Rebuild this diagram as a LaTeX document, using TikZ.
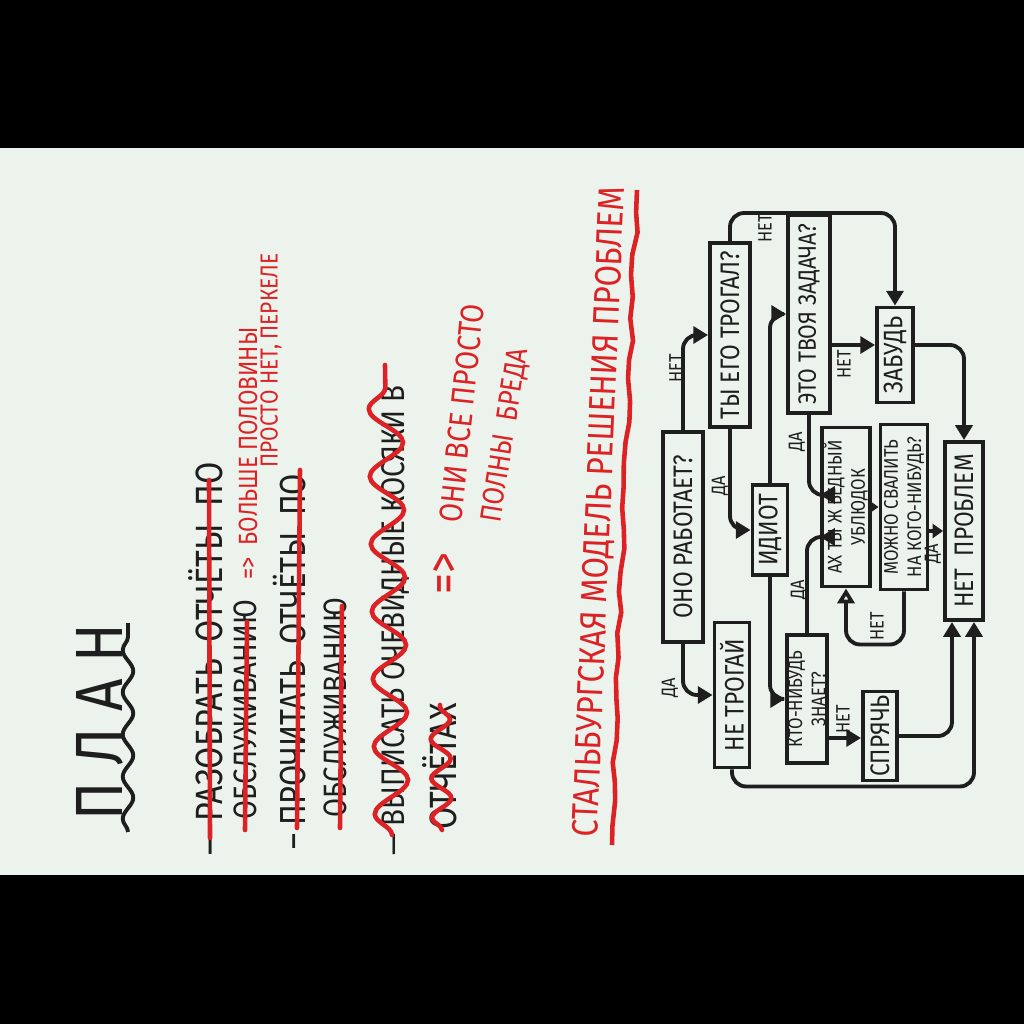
\documentclass[tikz,border=0pt]{standalone}
\usepackage{fontspec}
\setmainfont{Fira Sans}[FakeStretch=0.85]
\usetikzlibrary{positioning, arrows.meta, calc, decorations.pathmorphing}

\definecolor{paper}{RGB}{236,243,236}
\definecolor{ink}{RGB}{30,30,30}
\definecolor{redink}{RGB}{221,34,38}

\begin{document}
\begin{tikzpicture}[
    x=0.01cm, y=-0.01cm,
    note/.style={rotate=90, anchor=west, inner sep=0pt, text=ink, font=\fontsize{10.8}{13}\selectfont},
    rnote/.style={note, text=redink, font=\fontsize{7.5}{9}\selectfont},
    block/.style={rectangle, draw=ink, line width=1.1pt, rotate=90, inner sep=1pt, align=center, text=ink, font=\fontsize{7.6}{9}\selectfont},
    twoline/.style={block, inner sep=0pt, font=\fontsize{5.6}{6.6}\selectfont},
    tag/.style={rotate=90, inner sep=0pt, text=ink, font=\fontsize{5.5}{6}\selectfont},
    flow/.style={draw=ink, line width=1.1pt, rounded corners=4pt, -{Triangle[length=4.2pt, width=4.8pt]}},
    short/.style={flow, -{Triangle[length=3pt, width=4pt]}},
    strike/.style={draw=redink, line width=1.3pt, line cap=round},
    scribble/.style={strike, decorate, decoration={snake, amplitude=#1, segment length=4*#1}}
]
\useasboundingbox (0,0) rectangle (1024,1024);

% Page
\fill[black] (0,0) rectangle (1024,1024);
\fill[paper] (0,148) rectangle (1024,875);

% Plan
\node[note, anchor=center, font=\fontsize{19}{20}\selectfont\addfontfeatures{LetterSpace=25}] (plan) at (100,722) {ПЛАН};
\draw[ink, line width=1.1pt, decorate, decoration={snake, amplitude=1.5pt, segment length=12pt}] (128,832) -- (128,623);

\node[note] (item1) at (206,856) {— РАЗОБРАТЬ\ \ ОТЧЁТЫ\ \ ПО};
\node[note, font=\fontsize{9.2}{11}\selectfont] (item1b) at (245,820) {ОБСЛУЖИВАНИЮ};
\node[note, font=\fontsize{10.3}{12}\selectfont] (item2) at (290,850) {– ПРОЧИТАТЬ\ \ ОТЧЁТЫ\ \ ПО};
\node[note, font=\fontsize{9.2}{11}\selectfont] (item2b) at (335,818) {ОБСЛУЖИВАНИЮ};
\node[note, font=\fontsize{9.3}{11}\selectfont] (item3) at (395,856) {— ВЫПИСАТЬ ОЧЕВИДНЫЕ КОСЯКИ В};
\node[note] (item3b) at (440,830) {ОТЧЁТАХ};

% Red remarks
\node[rnote] (half) at (248,580) {=>\ \ БОЛЬШЕ ПОЛОВИНЫ};
\node[rnote, font=\fontsize{7}{8}\selectfont] (perkele) at (271,468) {ПРОСТО НЕТ, ПЕРКЕЛЕ};
\node[rnote, font=\fontsize{14}{16}\selectfont] (then) at (447,595) {=>};
\node[rnote, rotate=-6, font=\fontsize{9.2}{11}\selectfont] (allof) at (450,523) {ОНИ ВСЕ ПРОСТО};
\node[rnote, rotate=-9, font=\fontsize{8.5}{10}\selectfont] (nonsense) at (492,523) {ПОЛНЫ\ \ БРЕДА};

\draw[strike] (209,480) -- (210,838);
\draw[strike] (247,622) -- (245,830);
\draw[strike] (300,470) -- (297,828);
\draw[strike] (342,606) -- (340,828);
\draw[scribble=4.8pt] (392,835) -- (385,365);
\draw[scribble=2.8pt] (442,830) -- (440,705);

% Title
\node[rnote, rotate=-2.4, font=\fontsize{10.4}{12}\selectfont] (title) at (587,838) {СТАЛЬБУРГСКАЯ МОДЕЛЬ РЕШЕНИЯ ПРОБЛЕМ};
\draw[redink, line width=1.3pt, decorate, decoration={random steps, segment length=6pt, amplitude=0.8pt}] (612,845) -- (637,190);

% Nodes
\node[block, minimum width=2.10cm, minimum height=0.40cm] (works) at (683,537) {ОНО РАБОТАЕТ?};
\node[block, minimum width=1.84cm, minimum height=0.40cm] (touched) at (730,335) {ТЫ ЕГО ТРОГАЛ?};
\node[block, minimum width=1.98cm, minimum height=0.42cm, font=\fontsize{7.1}{9}\selectfont] (task) at (809,314) {ЭТО ТВОЯ ЗАДАЧА?};
\node[block, minimum width=0.95cm, minimum height=0.36cm] (forget) at (895,355) {ЗАБУДЬ};
\node[block, minimum width=1.78cm, minimum height=0.38cm] (fine) at (964,531) {НЕТ\ \ ПРОБЛЕМ};
\node[block, minimum width=0.90cm, minimum height=0.35cm] (idiot) at (770,530) {ИДИОТ};
\node[twoline, minimum width=1.59cm, minimum height=0.48cm] (poor) at (846,507) {АХ ТЫ Ж БЕДНЫЙ\\УБЛЮДОК};
\node[twoline, minimum width=1.65cm, minimum height=0.47cm] (blame) at (904,507) {МОЖНО СВАЛИТЬ\\НА КОГО-НИБУДЬ?};
\node[block, minimum width=1.45cm, minimum height=0.35cm] (leave) at (732,695) {НЕ ТРОГАЙ};
\node[twoline, minimum width=1.28cm, minimum height=0.40cm] (knows) at (807,699) {КТО-НИБУДЬ\\ЗНАЕТ?};
\node[block, minimum width=0.87cm, minimum height=0.34cm] (hide) at (880,736) {СПРЯЧЬ};

% Edges
\draw[flow] (works.east) |- (touched.north);
\draw[flow] (works.west) |- (leave.north);
\draw[flow] (touched.east) -- ++(0,-28) -| (forget.east);
\draw[flow] (touched.west) |- (idiot.north);
\draw[flow] (idiot.east) |- (task.north);
\draw[flow] (idiot.west) |- (knows.north);
\draw[flow] ($(task.south |- forget.north)+(0,-10)$) -- ($(forget.north)+(0,-10)$);
\draw[flow] (task.west) |- ($(poor.north)+(0,-12)$);
\draw[flow] (knows.east) |- ($(poor.north)+(0,30)$);
\draw[flow] ($(knows.south |- hide.north)+(0,2)$) -- ($(hide.north)+(0,2)$);
\draw[short] (poor.south) -- (blame.north);
\draw[short] (blame.south |- fine.north) -- (fine.north);
\draw[flow, -{Triangle[open, length=4.2pt, width=4.8pt]}] (blame.west) -- ++(0,53) -| (poor.west);
\draw[flow] ($(forget.south)+(0,-10)$) -| (fine.east);
\draw[flow] (hide.south) -| ($(fine.west)+(-12,0)$);
\draw[flow] (leave.west) -- ++(0,17) -| ($(fine.west)+(10,0)$);

% Edge labels
\node[tag] (no1) at (676,368) {НЕТ};
\node[tag] (yes1) at (670,688) {ДА};
\node[tag] (no2) at (765,228) {НЕТ};
\node[tag] (yes2) at (720,486) {ДА};
\node[tag] (no3) at (844,364) {НЕТ};
\node[tag] (yes3) at (797,442) {ДА};
\node[tag] (yes4) at (799,590) {ДА};
\node[tag] (no4) at (843,719) {НЕТ};
\node[tag] (yes5) at (933,554) {ДА};
\node[tag] (no5) at (877,626) {НЕТ};

\end{tikzpicture}
\end{document}
